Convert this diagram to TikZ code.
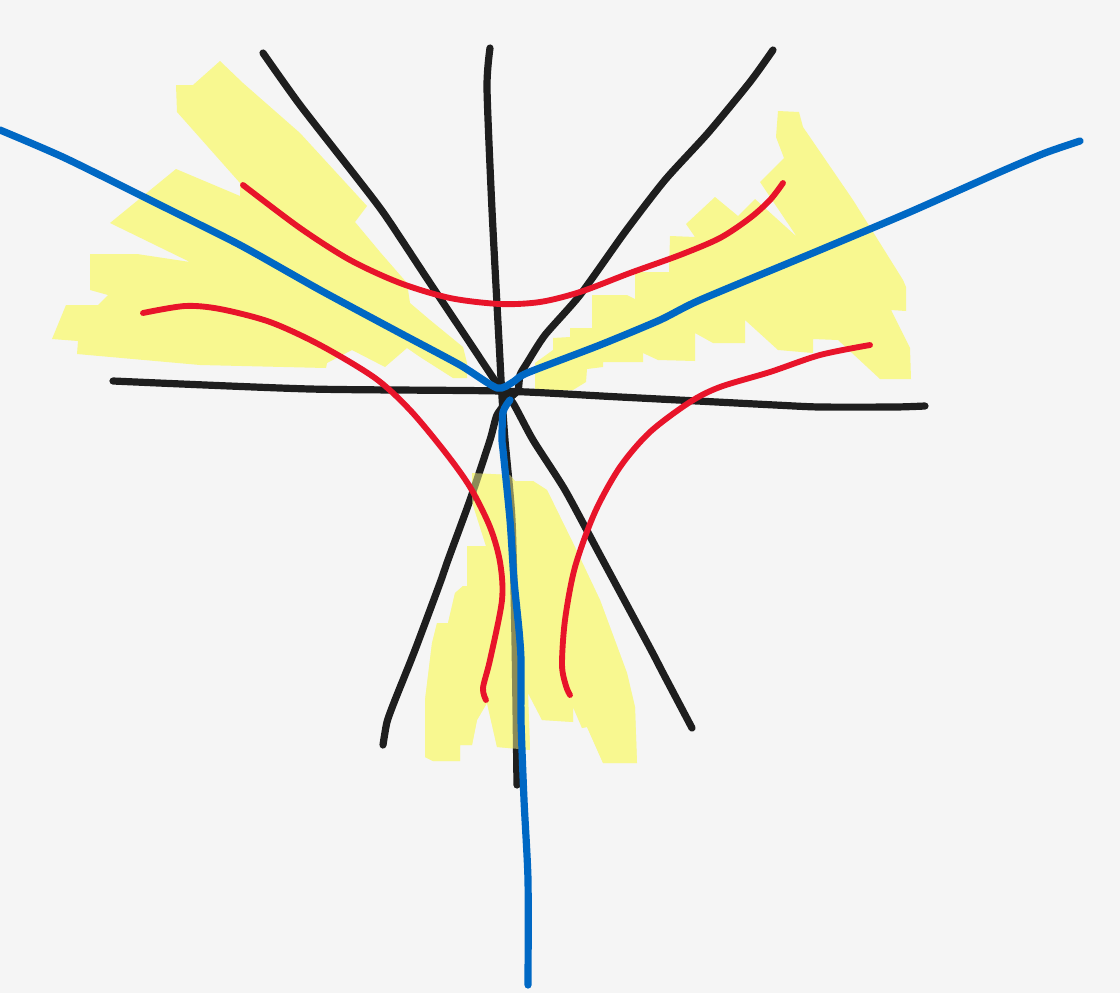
\documentclass[tikz,border=0pt]{standalone}
\usetikzlibrary{calc}
\definecolor{bg}{HTML}{F5F5F5}
\definecolor{hl}{HTML}{F8F890}
\definecolor{ink}{HTML}{1E1E1E}
\definecolor{bl}{HTML}{0068C4}
\definecolor{rd}{HTML}{E8142A}
\tikzset{
  hlfill/.style={fill=hl,draw=none},
  blackline/.style={draw=ink,line width=5.4pt,line cap=round,line join=round},
  blueline/.style={draw=bl,line width=5.4pt,line cap=round,line join=round},
  redline/.style={draw=rd,line width=4.4pt,line cap=round,line join=round},
}
\begin{document}
\begin{tikzpicture}[x=0.75pt,y=-0.75pt]
\fill[bg] (0,0) rectangle (1120,993);
\useasboundingbox (0,0) rectangle (1120,993);
% yellow highlight regions
\newcommand{\leftregion}{(176,85) -- (193,85) -- (220,61) -- (243,83) -- (300,133) -- (367,206) -- (355,222) -- (380,252) -- (407,283) -- (410,303) -- (430,320) -- (463,347) -- (467,363) -- (467,378) -- (453,378) -- (420,357) -- (407,348) -- (385,367) -- (352,350) -- (327,363) -- (326,368) -- (200,365) -- (77,354) -- (78,341) -- (52,339) -- (66,305) -- (98,305) -- (108,295) -- (90,290) -- (90,254) -- (137,254) -- (190,262) -- (110,223) -- (176,169) -- (240,196) -- (240,183) -- (177,112) -- cycle}
\newcommand{\rightregion}{(778,111) -- (799,112) -- (803,127) -- (853,200) -- (903,280) -- (906,287) -- (906,311) -- (891,310) -- (910,348) -- (911,379) -- (880,379) -- (838,340) -- (813,339) -- (813,353) -- (778,350) -- (745,320) -- (745,343) -- (713,343) -- (695,333) -- (695,361) -- (658,360) -- (643,353) -- (643,362) -- (603,362) -- (603,367) -- (587,369) -- (586,382) -- (573,390) -- (535,392) -- (535,363) -- (553,350) -- (553,338) -- (570,337) -- (570,328) -- (592,328) -- (592,295) -- (627,295) -- (635,299) -- (635,272) -- (669,272) -- (670,236) -- (695,237) -- (686,224) -- (715,197) -- (738,216) -- (755,199) -- (797,237) -- (760,182) -- (784,158) -- (776,137) -- cycle}
\newcommand{\bottomregion}{(472,473) -- (510,475) -- (515,481) -- (533,481) -- (547,490) -- (573,543) -- (600,600) -- (627,673) -- (635,707) -- (637,763) -- (603,763) -- (587,727) -- (582,728) -- (573,707) -- (573,722) -- (542,720) -- (528,693) -- (530,750) -- (497,747) -- (487,703) -- (477,720) -- (472,745) -- (460,745) -- (460,761) -- (433,761) -- (425,757) -- (425,700) -- (432,643) -- (437,623) -- (448,623) -- (455,593) -- (463,586) -- (467,586) -- (467,546) -- (486,546) -- (472,502) -- cycle}
\path[hlfill] \leftregion;
\path[hlfill] \rightregion;
\path[hlfill] \bottomregion;
% black lines
\draw[blackline] plot[smooth,tension=0.4] coordinates {(263,53) (300,105) (357,178) (385,215) (430,283) (468,340) (500,388) (513,403) (533,440) (565,490) (600,555) (650,648) (663,673) (692,728)};
\draw[blackline] plot[smooth,tension=0.4] coordinates {(773,50) (750,82) (708,133) (665,180) (625,232) (580,295) (545,335) (527,363) (520,375) (518,390) (510,398) (497,415) (490,440) (470,500) (448,560) (440,583) (415,650) (395,700) (387,722) (383,745)};
\draw[blackline] plot[smooth,tension=0.4] coordinates {(490,48) (487,88) (492,210) (500,360) (502,397) (505,440) (512,520) (515,640) (517,785)};
\draw[blackline] plot[smooth,tension=0.4] coordinates {(113,381) (310,389) (500,391) (620,397) (775,405) (820,407) (895,407) (925,406)};
% translucent overlay on bottom region
\path[hlfill,fill opacity=0.5] \bottomregion;
% blue lines
\draw[blueline] plot[smooth,tension=0.4] coordinates {(0,130) (65,158) (160,205) (240,245) (320,290) (400,333) (460,365) (497,388) (513,382) (527,373) (600,345) (660,320) (700,300) (820,250) (910,212) (1000,172) (1045,153) (1080,141)};
\draw[blueline] plot[smooth,tension=0.4] coordinates {(510,400) (503,412) (502,440) (503,450) (510,520) (514,580) (519,630) (521,660) (521,720) (524,800) (528,880) (528,985)};
% red curves
\draw[redline] plot[smooth,tension=0.5] coordinates {(243,185) (300,228) (350,260) (400,283) (450,298) (500,304) (540,302) (580,292) (630,273) (680,255) (720,238) (750,218) (770,200) (783,183)};
\draw[redline] plot[smooth,tension=0.5] coordinates {(143,313) (185,306) (220,309) (270,322) (320,345) (375,378) (410,410) (445,452) (470,487) (490,527) (500,562) (502,600) (490,660) (483,688) (486,700)};
\draw[redline] plot[smooth,tension=0.5] coordinates {(870,345) (820,355) (770,372) (720,387) (690,402) (650,432) (620,467) (595,512) (575,567) (565,620) (562,665) (566,686) (570,695)};
\end{tikzpicture}
\end{document}
